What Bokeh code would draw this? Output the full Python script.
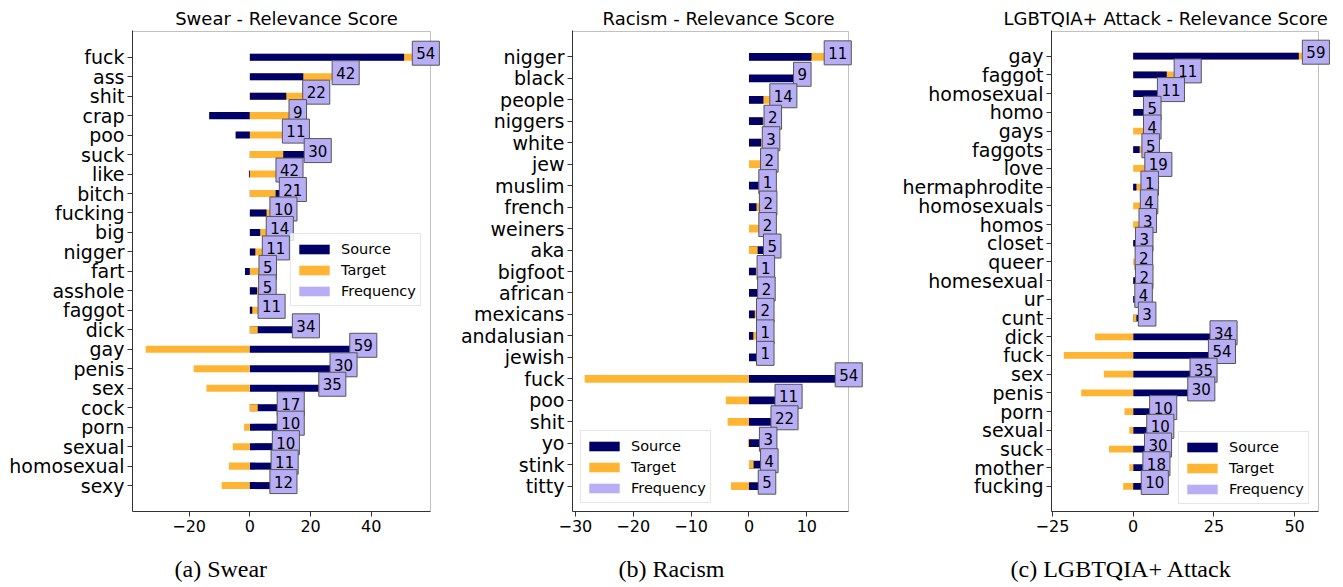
from bokeh.plotting import figure
from bokeh.models import (Range1d, FixedTicker, Label, Legend, LegendItem, Title,
                          ColumnDataSource, BoxAnnotation)
from bokeh.layouts import row
from bokeh.embed import file_html
from bokeh.resources import INLINE

# ---------------- data ----------------
swear_words = ["fuck", "ass", "shit", "crap", "poo", "suck", "like", "bitch", "fucking", "big",
               "nigger", "fart", "asshole", "faggot", "dick", "gay", "penis", "sex", "cock",
               "porn", "sexual", "homosexual", "sexy"]
swear_source = [50.8, 17.6, 12.0, -13.4, -4.7, 17.9, -0.3, 9.7, 5.5, 3.4,
                1.8, -1.6, 2.4, 0.8, 14.0, 32.9, 26.4, 22.7, 9.0,
                9.0, 7.4, 7.0, 6.6]
swear_target = [53.5, 27.1, 17.4, 12.9, 10.7, 11.0, 8.6, 8.5, 6.6, 5.4,
                4.1, 3.0, 2.9, 2.7, 2.6, -34.3, -18.5, -14.3, 2.6,
                -1.9, -5.6, -6.9, -9.3]
swear_freq = [54, 42, 22, 9, 11, 30, 42, 21, 10, 14, 11, 5, 5, 11, 34, 59, 30, 35, 17, 10, 10, 11, 12]

racism_words = ["nigger", "black", "people", "niggers", "white", "jew", "muslim", "french",
                "weiners", "aka", "bigfoot", "african", "mexicans", "andalusian", "jewish",
                "fuck", "poo", "shit", "yo", "stink", "titty"]
racism_source = [10.8, 7.7, 2.5, 2.4, 2.1, 0.0, 1.7, 1.3,
                 0.0, 2.5, 1.2, 1.5, 1.0, 0.75, 1.3,
                 14.9, 4.5, 3.8, 1.8, 2.0, 1.6]
racism_target = [13.0, 0.0, 3.6, 2.6, 2.3, 2.0, 0.0, 1.8,
                 1.7, 1.5, 1.4, 0.0, 1.3, 1.3, 0.0,
                 -28.4, -4.0, -3.7, -0.2, 0.8, -3.1]
racism_freq = [11, 9, 14, 2, 3, 2, 1, 2, 2, 5, 1, 2, 2, 1, 1, 54, 11, 22, 3, 4, 5]

lgbt_words = ["gay", "faggot", "homosexual", "homo", "gays", "faggots", "love", "hermaphrodite",
              "homosexuals", "homos", "closet", "queer", "homesexual", "ur", "cunt", "dick",
              "fuck", "sex", "penis", "porn", "sexual", "suck", "mother", "fucking"]
lgbt_source = [51.3, 10.4, 7.5, 3.2, 0.0, 2.0, 0.0, 1.0,
               0.0, 0.0, 0.7, 0.0, 0.7, 0.5, 1.6, 23.8,
               23.3, 17.6, 16.9, 5.1, 4.2, 3.5, 3.0, 2.5]
lgbt_target = [52.4, 12.7, 0.0, 0.0, 3.2, 2.7, 3.6, 2.4,
               2.2, 1.8, 0.0, 0.6, 0.0, 0.0, 1.0, -11.8,
               -21.5, -9.1, -16.1, -2.7, -1.2, -7.5, -1.2, -3.1]
lgbt_freq = [59, 11, 11, 5, 4, 5, 19, 1, 4, 3, 3, 2, 2, 4, 3, 34, 54, 35, 30, 10, 10, 30, 18, 10]

x_ticks_swear = [-20, 0, 20, 40]
x_ticks_racism = [-30, -20, -10, 0, 10]
x_ticks_lgbt = [-25, 0, 25, 50]

NAVY = "#000066"
ORANGE = "#FFB533"
LAV = "#B7AEF5"
FONT = "DejaVu Sans"
SPINE = "#333333"
FRAME_H = 480


def panel(title, caption, words, src, tgt, freq, xr, ypad, xticks, frame_w, extra_px, bl, br,
          legend_loc, title_align, title_off, cap_off):
    n = len(words)
    ypos = [n - 1 - i for i in range(n)]
    back_x, back_c, front_x, front_c = [], [], [], []
    for s, t in zip(src, tgt):
        if abs(s) >= abs(t):
            back_x.append(s); back_c.append(NAVY); front_x.append(t); front_c.append(ORANGE)
        else:
            back_x.append(t); back_c.append(ORANGE); front_x.append(s); front_c.append(NAVY)
    ds = ColumnDataSource(dict(y=ypos, back=back_x, bc=back_c, front=front_x, fc=front_c))

    # axes limits (as in the reference) and a slightly larger frame so that the
    # frequency boxes may overflow the right spine like in the reference
    x0, x1 = xr
    y0, y1 = -ypad[1], n - 1 + ypad[0]
    x_ext = x1 + (x1 - x0) * extra_px / frame_w
    y_ext = y1 + (y1 - y0) / FRAME_H

    p = figure(frame_width=frame_w + extra_px, frame_height=FRAME_H + 1,
               min_border_left=bl, min_border_right=br,
               min_border_top=30, min_border_bottom=76,
               x_range=Range1d(x0, x_ext), y_range=Range1d(y0, y_ext),
               output_backend="svg", toolbar_location=None, tools="")
    p.hbar(y="y", left=0, right="back", height=0.36, fill_color="bc", line_color=None, source=ds)
    p.hbar(y="y", left=0, right="front", height=0.36, fill_color="fc", line_color=None, source=ds)

    p.add_layout(BoxAnnotation(left=x0, right=x1, bottom=y0, top=y1, fill_alpha=0,
                               line_color=SPINE, line_width=1))

    for yv, s, t, f in zip(ypos, src, tgt, freq):
        p.add_layout(Label(x=max(s, t, 0), y=yv, text=str(f), x_offset=0, y_offset=4,
                           text_align="left", text_baseline="middle",
                           text_font=FONT, text_font_size="15px", text_color="black",
                           background_fill_color=LAV, background_fill_alpha=1.0,
                           border_line_color="#555555", border_line_width=1, padding=(4, 6)))

    r_s = p.hbar(y=[ypos[0]], right=[0], height=0, fill_color=NAVY, line_color=None)
    r_t = p.hbar(y=[ypos[0]], right=[0], height=0, fill_color=ORANGE, line_color=None)
    r_f = p.hbar(y=[ypos[0]], right=[0], height=0, fill_color=LAV, line_color=None)
    legend = Legend(items=[LegendItem(label="Source", renderers=[r_s]),
                           LegendItem(label="Target", renderers=[r_t]),
                           LegendItem(label="Frequency", renderers=[r_f])],
                    location=legend_loc, margin=0, padding=4, spacing=0,
                    label_height=21, glyph_width=38, glyph_height=12, label_standoff=8,
                    label_text_font=FONT, label_text_font_size="14.5px",
                    label_text_color="black",
                    border_line_color="#cccccc", background_fill_alpha=0.8)
    p.add_layout(legend)

    p.xaxis.ticker = FixedTicker(ticks=xticks)
    p.xaxis.major_label_overrides = {t: str(t).replace("-", "\u2212") for t in xticks}
    p.xaxis.bounds = (x0, x1)
    p.yaxis.ticker = FixedTicker(ticks=ypos)
    p.yaxis.major_label_overrides = {yv: w for yv, w in zip(ypos, words)}
    for ax in (p.xaxis[0], p.yaxis[0]):
        ax.major_tick_out = 5
        ax.major_tick_in = 0
        ax.minor_tick_out = 0
        ax.minor_tick_in = 0
        ax.axis_line_color = SPINE
        ax.major_tick_line_color = SPINE
        ax.major_label_text_font = FONT
        ax.major_label_text_color = "black"
        ax.major_label_standoff = 3
    p.xaxis.major_label_text_font_size = "16px"
    p.yaxis.major_label_text_font_size = "19px"
    p.xgrid.visible = False
    p.ygrid.visible = False
    p.outline_line_color = None

    p.title.text = title
    p.title.align = title_align
    p.title.text_font = FONT
    p.title.text_font_size = "18px"
    p.title.text_font_style = "normal"
    p.title.text_color = "black"
    p.title.offset = title_off
    p.title.standoff = 3

    p.add_layout(Title(text=caption, align="left", text_font="Liberation Serif",
                       text_font_size="24px", text_font_style="normal", text_color="black",
                       offset=cap_off, standoff=39), "below")
    return p


p1 = panel("Swear - Relevance Score", "(a) Swear", swear_words, swear_source, swear_target,
           swear_freq, (-38.65, 59.5), (1.32, 1.33), x_ticks_swear, 298, 10, 132, 0,
           (158, 205), "center", 0, 42)
p2 = panel("Racism - Relevance Score", "(b) Racism", racism_words, racism_source, racism_target,
           racism_freq, (-30.5, 17.2), (1.18, 1.18), x_ticks_racism, 276, 16, 132, 16,
           (8, 8), "center", 0, 46)
p3 = panel("LGBTQIA+ Attack - Relevance Score", "(c) LGBTQIA+ Attack", lgbt_words, lgbt_source,
           lgbt_target, lgbt_freq, (-25.3, 57.4), (1.32, 1.34), x_ticks_lgbt, 267, 14, 171, 11,
           (127, 7), "left", -48, -41)

layout = row(p1, p2, p3)
open("out.html", "w").write(file_html(layout, INLINE))
